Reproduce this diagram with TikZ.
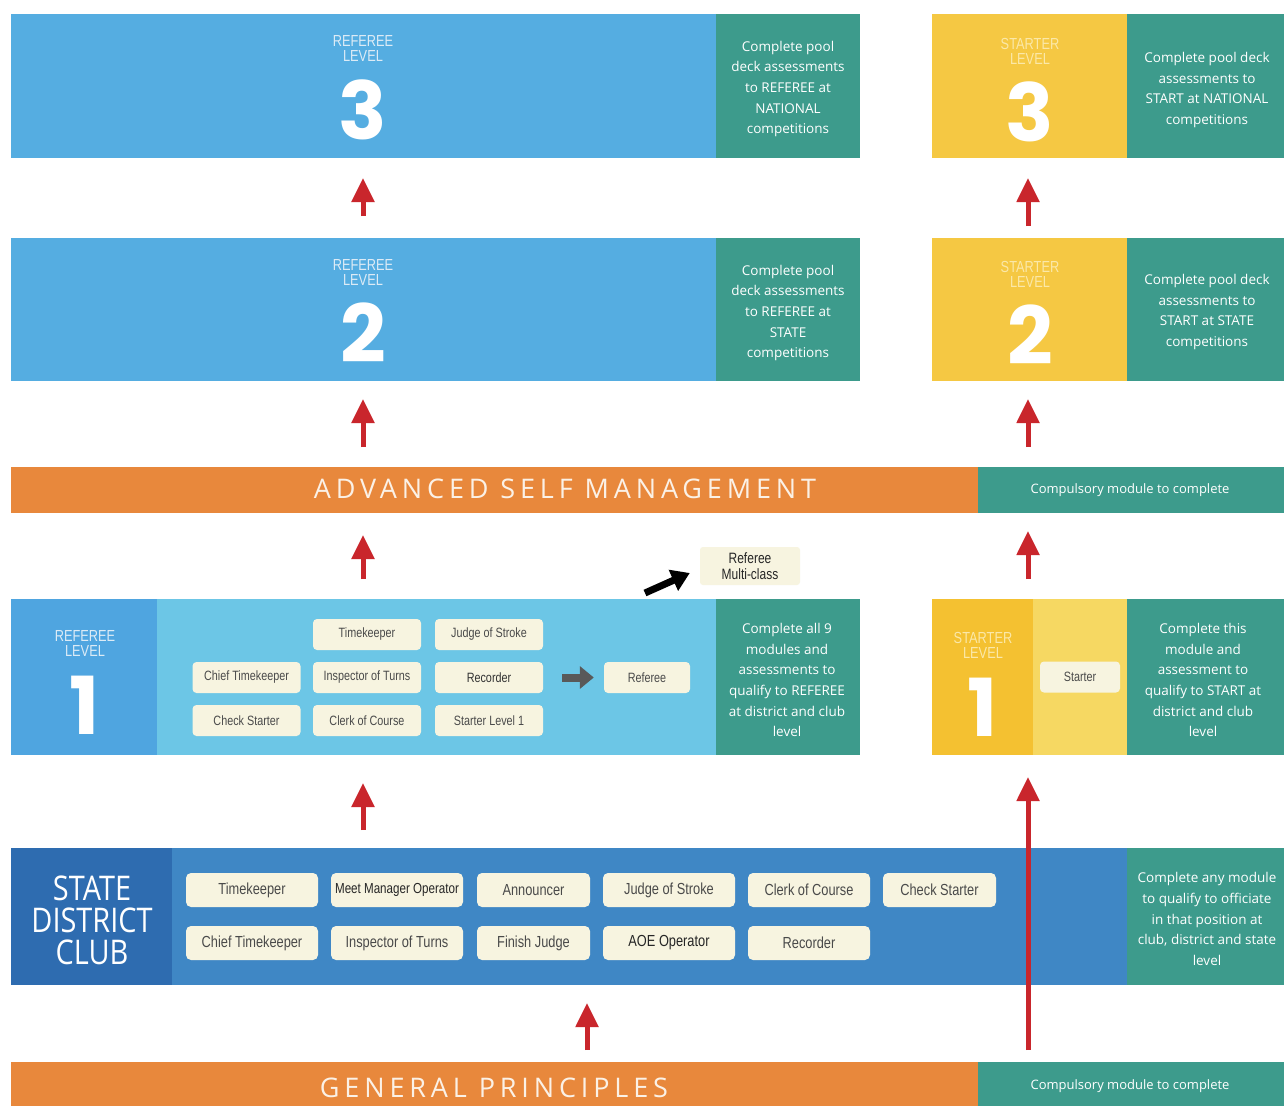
\documentclass[tikz,border=0pt]{standalone}
\usepackage{fontspec}
\setmainfont{Open Sans}
\newfontfamily\condf[FakeStretch=0.8]{Liberation Sans}
\newfontfamily\numf{Poppins}
\newfontfamily\spacedf[LetterSpace=18]{Open Sans}
\newfontfamily\headf[FakeStretch=0.85]{Open Sans}
\newfontfamily\lvlf[FakeStretch=0.8]{Liberation Sans}
\usetikzlibrary{arrows.meta}
\definecolor{refblue}{HTML}{55ADE1}
\definecolor{tealc}{HTML}{3D9B8C}
\definecolor{yel}{HTML}{F5C843}
\definecolor{orng}{HTML}{E8883C}
\definecolor{redar}{HTML}{C9262C}
\definecolor{dblue}{HTML}{2E6CB0}
\definecolor{mblue}{HTML}{3F87C5}
\definecolor{lleft}{HTML}{4FA5E0}
\definecolor{llight}{HTML}{6CC6E6}
\definecolor{cream}{HTML}{F7F4E0}
\definecolor{ydark}{HTML}{F4C131}
\definecolor{ylight}{HTML}{F6D862}
\definecolor{paleyel}{HTML}{FBE8A8}
\definecolor{paleblue}{HTML}{DCEBF6}
\definecolor{txtcream}{HTML}{FBF1E6}
\definecolor{modtxt}{HTML}{4A4A4A}
\newcommand{\rect}[6]{\node[box,fill=#2,minimum width=#5pt,minimum height=#6pt] (#1) at (#3,#4) {};}
\tikzset{
  box/.style={inner sep=0pt,outer sep=0pt,anchor=north west,draw=none},
  tealtxt/.style={text=white,align=center,font=\fontsize{13.5}{20.7}\selectfont,inner sep=0pt},
  modA/.style={fill=cream,rounded corners=4pt,minimum width=108pt,minimum height=31pt,inner sep=0pt,text=modtxt,font=\condf\fontsize{13.5}{15}\selectfont},
  modB/.style={fill=cream,rounded corners=5pt,minimum width=132pt,minimum height=34pt,inner sep=0pt,text=modtxt,font=\condf\fontsize{16}{17}\selectfont},
  redarrow/.style={draw=redar,line width=5pt,-{Triangle[width=22pt,length=24pt]}},
  lvlsmall/.style={align=center,inner sep=0pt,font=\lvlf\fontsize{16}{15}\selectfont},
  bignum/.style={inner sep=0pt,text=white,font=\numf\bfseries\fontsize{80}{80}\selectfont}
}
\begin{document}
\begin{tikzpicture}[x=1pt,y=-1pt]
\fill[white] (0,0) rectangle (1286,1106);
\useasboundingbox (0,0) rectangle (1286,1106);
\coordinate (ax) at (363,0);
\coordinate (sx) at (1028,0);
\coordinate (gx) at (587,0);
% Referee level 3
\rect{r3}{refblue}{11}{14}{705}{144}
\rect{r3t}{tealc}{716}{14}{144}{144}
\node[lvlsmall,text=paleblue] (r3l) at (363,48) {REFEREE\\LEVEL};
\node[bignum] (r3n) at (363,110) {3};
\node[tealtxt] (r3x) at (788,89) {Complete pool\\deck assessments\\to REFEREE at\\NATIONAL\\competitions};
% Starter level 3
\rect{s3}{yel}{932}{14}{195}{144}
\rect{s3t}{tealc}{1127}{14}{157}{144}
\node[lvlsmall,text=paleyel] (s3l) at (1030,51) {STARTER\\LEVEL};
\node[bignum] (s3n) at (1030,112) {3};
\node[tealtxt] (s3x) at (1207,90) {Complete pool deck\\assessments to\\START at NATIONAL\\competitions};
% Referee level 2
\rect{r2}{refblue}{11}{238}{705}{143}
\rect{r2t}{tealc}{716}{238}{144}{143}
\node[lvlsmall,text=paleblue] (r2l) at (363,272) {REFEREE\\LEVEL};
\node[bignum] (r2n) at (363,333) {2};
\node[tealtxt] (r2x) at (788,313) {Complete pool\\deck assessments\\to REFEREE at\\STATE\\competitions};
% Starter level 2
\rect{s2}{yel}{932}{238}{195}{143}
\rect{s2t}{tealc}{1127}{238}{157}{143}
\node[lvlsmall,text=paleyel] (s2l) at (1030,274) {STARTER\\LEVEL};
\node[bignum] (s2n) at (1030,335) {2};
\node[tealtxt] (s2x) at (1207,312) {Complete pool deck\\assessments to\\START at STATE\\competitions};
% Advanced self management
\rect{asm}{orng}{11}{467}{967}{46}
\rect{asmt}{tealc}{978}{467}{306}{46}
\node[inner sep=0pt,text=txtcream,font=\spacedf\fontsize{27}{27}\selectfont] (asml) at (565,489) {ADVANCED SELF MANAGEMENT};
\node[tealtxt,font=\fontsize{13}{15}\selectfont] (asmx) at (1130,490) {Compulsory module to complete};
% Referee level 1
\rect{r1a}{lleft}{11}{599}{146}{156}
\rect{r1}{llight}{157}{599}{559}{156}
\rect{r1t}{tealc}{716}{599}{144}{156}
\node[lvlsmall,text=paleblue] (r1l) at (85,643) {REFEREE\\LEVEL};
\node[bignum] (r1n) at (85,705) {1};
\node[modA] (m1) at (367,634.5) {Timekeeper};
\node[modA] (m2) at (489,634.5) {Judge of Stroke};
\node[modA] (m3) at (246.5,677.5) {Chief Timekeeper};
\node[modA] (m4) at (367,677.5) {Inspector of Turns};
\node[modA,text=black!80] (m5) at (489,677.5) {Recorder};
\node[modA] (m6) at (246.5,720.5) {Check Starter};
\node[modA] (m7) at (367,720.5) {Clerk of Course};
\node[modA] (m8) at (489,720.5) {Starter Level 1};
\node[modA,minimum width=86pt] (mref) at (647,677.5) {Referee};
\draw[draw=black!65,line width=8pt,-{Triangle[width=22pt,length=14pt]},shorten <=19pt,shorten >=10pt] (m5.east) -- (mref.west);
\node[tealtxt] (r1x) at (787,680) {Complete all 9\\modules and\\assessments to\\qualify to REFEREE\\at district and club\\level};
\node[fill=cream,rounded corners=3pt,minimum width=100pt,minimum height=38pt,inner sep=0pt,align=center,text=black!85,font=\condf\fontsize{15}{16}\selectfont] (multi) at (750,566) {Referee\\Multi-class};
\coordinate (mcs) at (645,593);
\draw[black,line width=7pt,-{Triangle[width=22pt,length=18pt]}] (mcs) -- ([xshift=-10pt]multi.west |- 0,573);
% Starter level 1
\rect{s1a}{ydark}{932}{599}{101}{156}
\rect{s1}{ylight}{1033}{599}{94}{156}
\rect{s1t}{tealc}{1127}{599}{157}{156}
\node[lvlsmall,text=paleyel] (s1l) at (983,645) {STARTER\\LEVEL};
\node[bignum] (s1n) at (983,707) {1};
\node[modA,minimum width=80pt] (st) at (1080,677) {Starter};
\node[tealtxt] (s1x) at (1203,680) {Complete this\\module and\\assessment to\\qualify to START at\\district and club\\level};
% State district club
\rect{sdc}{dblue}{11}{848}{161}{137}
\rect{sdm}{mblue}{172}{848}{955}{137}
\rect{sdt}{tealc}{1127}{848}{157}{137}
\node[align=center,inner sep=0pt,text=white,font=\headf\fontsize{34}{32}\selectfont] (sdcl) at (92,920) {STATE\\DISTRICT\\CLUB};
\node[modB] (b1) at (252,890) {Timekeeper};
\node[modB,text=black!85] (b2) at (397,890) {\fontsize{14.5}{16}\selectfont Meet Manager Operator};
\node[modB,minimum width=113pt] (b3) at (533.5,890) {Announcer};
\node[modB] (b4) at (669,890) {Judge of Stroke};
\node[modB,minimum width=122pt] (b5) at (809,890) {Clerk of Course};
\node[modB,minimum width=113pt] (b6) at (939.5,890) {Check Starter};
\node[modB] (b7) at (252,943) {Chief Timekeeper};
\node[modB] (b8) at (397,943) {Inspector of Turns};
\node[modB,minimum width=113pt] (b9) at (533.5,943) {Finish Judge};
\node[modB,text=black!85] (b10) at (669,943) {AOE Operator};
\node[modB,minimum width=122pt] (b11) at (809,943) {Recorder};
\node[tealtxt] (sdx) at (1207,919) {Complete any module\\to qualify to officiate\\in that position at\\club, district and state\\level};
% General principles
\rect{gp}{orng}{11}{1062}{967}{50}
\rect{gpt}{tealc}{978}{1062}{306}{50}
\node[inner sep=0pt,text=txtcream,font=\spacedf\fontsize{27}{27}\selectfont] (gpl) at (494,1088) {GENERAL PRINCIPLES};
\node[tealtxt,font=\fontsize{13}{15}\selectfont] (gpx) at (1130,1086) {Compulsory module to complete};
% red arrows
\draw[redarrow,shorten <=22pt,shorten >=20pt] (r2.north -| ax) -- (r3.south -| ax);
\draw[redarrow,shorten <=20pt,shorten >=18pt] (asm.north -| ax) -- (r2.south -| ax);
\draw[redarrow,shorten <=20pt,shorten >=22pt] (r1.north -| ax) -- (asm.south -| ax);
\draw[redarrow,shorten <=18pt,shorten >=28pt] (sdm.north -| ax) -- (r1.south -| ax);
\draw[redarrow,shorten <=12pt,shorten >=18pt] (gp.north -| gx) -- (sdm.south -| gx);
\draw[redarrow,shorten <=12pt,shorten >=20pt] (s2.north -| sx) -- (s3.south -| sx);
\draw[redarrow,shorten <=20pt,shorten >=18pt] (asmt.north -| sx) -- (s2.south -| sx);
\draw[redarrow,shorten <=20pt,shorten >=18pt] (s1.north -| sx) -- (asmt.south -| sx);
\draw[redarrow,shorten <=12pt,shorten >=22pt] (gp.north -| sx) -- (s1.south -| sx);
\end{tikzpicture}
\end{document}
